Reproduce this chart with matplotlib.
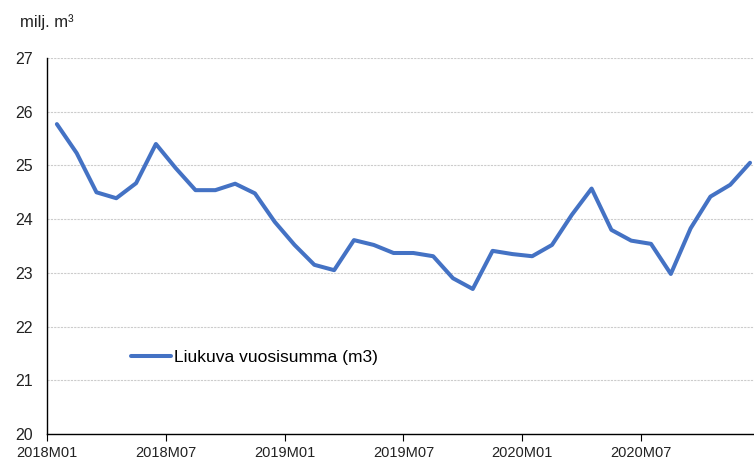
import matplotlib

matplotlib.use("Agg")
import matplotlib.pyplot as plt

plt.rcParams["font.family"] = ["Liberation Sans", "DejaVu Sans"]

months = [f"{y}M{m:02d}" for y in (2018, 2019, 2020) for m in range(1, 13)]
values = [
    25.77, 25.23, 24.50, 24.39, 24.67, 25.40, 24.95, 24.54, 24.54, 24.66,
    24.48, 23.95, 23.52, 23.15, 23.05, 23.61, 23.52, 23.37, 23.37, 23.31,
    22.90, 22.70, 23.41, 23.35, 23.31, 23.52, 24.08, 24.57, 23.80, 23.60,
    23.54, 22.98, 23.83, 24.42, 24.64, 25.05,
]
tick_months = ["2018M01", "2018M07", "2019M01", "2019M07", "2020M01", "2020M07"]
series_label = "Liukuva vuosisumma (m3)"

fig = plt.figure(figsize=(7.54, 4.67), dpi=100)
ax = fig.add_axes([0.0623, 0.0707, 0.9377, 0.805])

# categories centred between tick marks, like Excel
xs = [i + 0.5 for i in range(len(values))]
ax.plot(xs, values, color="#4472C4", lw=2.9, solid_joinstyle="round",
        solid_capstyle="round", label=series_label, zorder=3)

ax.set_ylim(20, 27)
ax.set_yticks(range(20, 28))
ax.set_xlim(0, 35.7)
ax.set_xticks([months.index(t) for t in tick_months])
ax.set_xticklabels(tick_months)

ax.grid(axis="y", color="#CCCCCC", lw=0.8, ls=(0, (2, 1)), zorder=0)
for s in ("top", "right"):
    ax.spines[s].set_visible(False)
for s in ("left", "bottom"):
    ax.spines[s].set_color("black")
    ax.spines[s].set_linewidth(1.0)

ax.tick_params(axis="y", length=0, labelsize=11.5, pad=10, colors="#222222")
ax.tick_params(axis="x", length=5, direction="out", labelsize=10.5,
               colors="black", labelcolor="#222222")

fig.text(0.027, 0.952, "milj. m³", fontsize=12, color="#222222",
         va="center")

ax.legend(loc="upper left", bbox_to_anchor=(0.097, 0.265), frameon=False,
          fontsize=12.5, handlelength=2.3, handletextpad=0.15)

fig.savefig("out.png", dpi=100)
